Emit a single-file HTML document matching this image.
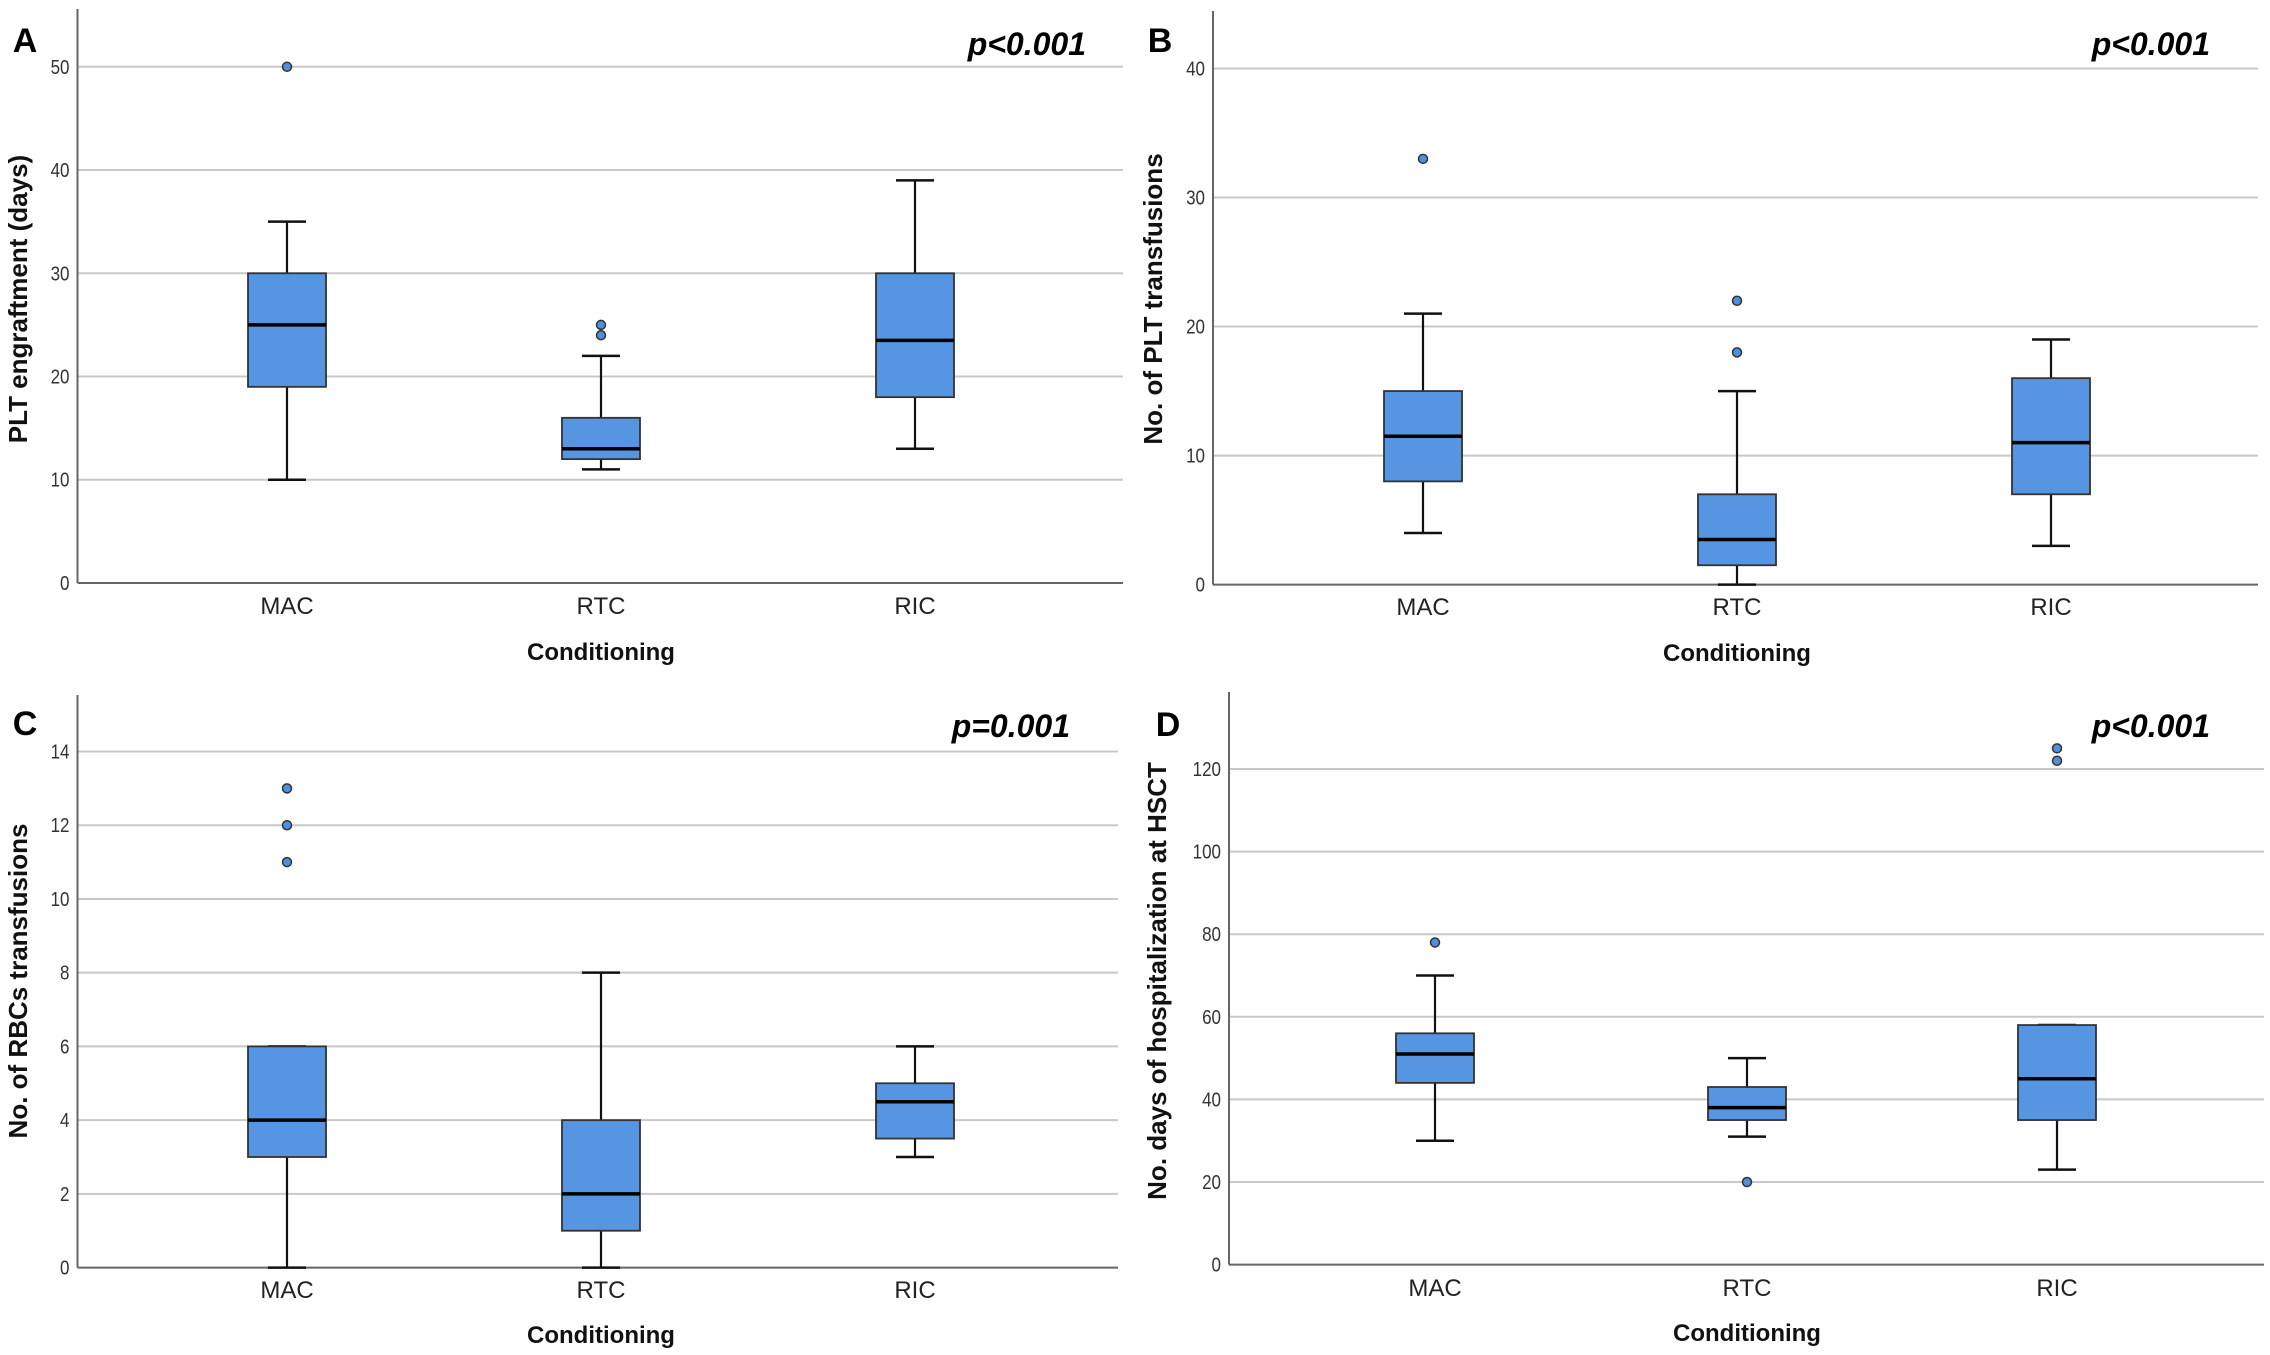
<!DOCTYPE html>
<html><head><meta charset="utf-8">
<style>
html,body{margin:0;padding:0;background:#fff;}
svg{display:block;}
text{font-family:"Liberation Sans",sans-serif;}
</style></head>
<body>
<svg id="fig" width="2270" height="1355" viewBox="0 0 2270 1355" xmlns="http://www.w3.org/2000/svg"></svg>
<script>
const categories = ["MAC","RTC","RIC"];
// [min, q1, median, q3, max]
const boxA = [[10,19,25,30,35],[11,12,13,16,22],[13,18,23.5,30,39]];
const outA = [[50],[24,25],[]];
const boxB = [[4,8,11.5,15,21],[0,1.5,3.5,7,15],[3,7,11,16,19]];
const outB = [[33],[18,22],[]];
const boxC = [[0,3,4,6,6],[0,1,2,4,8],[3,3.5,4.5,5,6]];
const outC = [[11,12,13],[],[]];
const boxD = [[30,44,51,56,70],[31,35,38,43,50],[23,35,45,58,58]];
const outD = [[78],[20],[122,125]];
const ticksA = [0,10,20,30,40,50];
const ticksB = [0,10,20,30,40];
const ticksC = [0,2,4,6,8,10,12,14];
const ticksD = [0,20,40,60,80,100,120];

const NS = "http://www.w3.org/2000/svg";
const svg = document.getElementById("fig");
function mk(tag, attrs, parent, txt){
  const e = document.createElementNS(NS, tag);
  for (const k in attrs) e.setAttribute(k, attrs[k]);
  if (txt !== undefined) e.textContent = txt;
  parent.appendChild(e);
  return e;
}

const panels = [
  {id:"a", letter:"A", p:"p<0.001", title:"PLT engraftment (days)", box:boxA, out:outA, ticks:ticksA,
   ax:77.5, right:1123, top:9, y0:583, yv:50, yvPix:66.8, cx:[287,601,915], lx:25, ly:52, pr:1086, py:55, tx:18, ty:299, catY:614, condY:660},
  {id:"b", letter:"B", p:"p<0.001", title:"No. of PLT transfusions", box:boxB, out:outB, ticks:ticksB,
   ax:1213, right:2258, top:11, y0:584.6, yv:40, yvPix:68.5, cx:[1423,1737,2051], lx:1160, ly:52, pr:2210, py:55, tx:1153, ty:299, catY:615, condY:661},
  {id:"c", letter:"C", p:"p=0.001", title:"No. of RBCs transfusions", box:boxC, out:outC, ticks:ticksC,
   ax:77.5, right:1118, top:695, y0:1267.6, yv:14, yvPix:751.5, cx:[287,601,915], lx:25, ly:735, pr:1070, py:737, tx:18, ty:981, catY:1298, condY:1343},
  {id:"d", letter:"D", p:"p<0.001", title:"No. days of hospitalization at HSCT", box:boxD, out:outD, ticks:ticksD,
   ax:1229, right:2264, top:692, y0:1264.6, yv:120, yvPix:769, cx:[1435,1747,2057], lx:1168, ly:736, pr:2210, py:737, tx:1157, ty:981, catY:1296, condY:1341}
];

panels.forEach(P => {
  const g = mk("g", {}, svg);
  
  
  const y = v => P.y0 - (P.y0 - P.yvPix) * v / P.yv;
  P.ticks.forEach(t => {
    if (t !== 0) {
      const gl = mk("line", {x1:P.ax, x2:P.right, y1:y(t), y2:y(t), stroke:"#c8c8c8", "stroke-width":2}, g);
      
      
    }
    const tl = mk("text", {x:P.ax-8, y:y(t)+7, "text-anchor":"end", "font-size":20, fill:"#333", transform:`translate(${(P.ax-8)*0.15},0) scale(0.85,1)`}, g, String(t));
    
    
  });
  const xa = mk("line", {x1:P.ax, x2:P.right, y1:P.y0, y2:P.y0, stroke:"#666", "stroke-width":2}, g);
  
  
  const ya = mk("line", {x1:P.ax, x2:P.ax, y1:P.top, y2:P.y0, stroke:"#666", "stroke-width":2}, g);
  
  
  P.box.forEach((b, i) => {
    const cx = P.cx[i], hw = 39, cw = 19;
    const bg = mk("g", {}, g);
    
    
    mk("line", {x1:cx, x2:cx, y1:y(b[0]), y2:y(b[1]), stroke:"#111", "stroke-width":2.2}, bg);
    mk("line", {x1:cx, x2:cx, y1:y(b[3]), y2:y(b[4]), stroke:"#111", "stroke-width":2.2}, bg);
    mk("line", {x1:cx-cw, x2:cx+cw, y1:y(b[0]), y2:y(b[0]), stroke:"#111", "stroke-width":2.5}, bg);
    mk("line", {x1:cx-cw, x2:cx+cw, y1:y(b[4]), y2:y(b[4]), stroke:"#111", "stroke-width":2.5}, bg);
    mk("rect", {x:cx-hw, y:y(b[3]), width:hw*2, height:y(b[1])-y(b[3]), fill:"#5595e2", stroke:"#333", "stroke-width":1.8}, bg);
    mk("line", {x1:cx-hw, x2:cx+hw, y1:y(b[2]), y2:y(b[2]), stroke:"#000", "stroke-width":3.5}, bg);
    P.out[i].forEach(o => {
      const c = mk("circle", {cx:cx, cy:y(o), r:4.5, fill:"#4f8fdc", stroke:"#333", "stroke-width":1.5}, g);
      
      
    });
    const cl = mk("text", {x:cx, y:P.catY, "text-anchor":"middle", "font-size":24, fill:"#222"}, g, categories[i]);
    
    
  });
  const xt = mk("text", {x:P.cx[1], y:P.condY, "text-anchor":"middle", "font-size":24, "font-weight":"bold", fill:"#111"}, g, "Conditioning");
  
  
  const yt = mk("text", {x:0, y:0, "text-anchor":"middle", "font-size":26, "font-weight":"bold", fill:"#111", transform:`translate(${P.tx+9},${P.ty}) rotate(-90)`}, g, P.title);
  
  
  const lt = mk("text", {x:P.lx, y:P.ly, "text-anchor":"middle", "font-size":34, "font-weight":"bold", fill:"#000"}, g, P.letter);
  
  
  const pt = mk("text", {x:P.pr, y:P.py, "text-anchor":"end", "font-size":32, "font-weight":"bold", "font-style":"italic", fill:"#000"}, g, P.p);
  
  
});
</script>
</body></html>
